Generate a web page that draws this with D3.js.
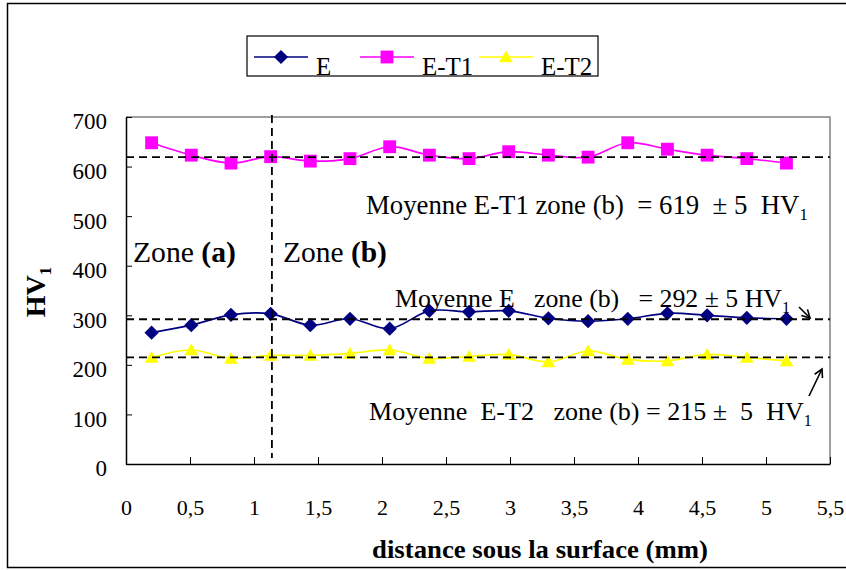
<!DOCTYPE html>
<html><head><meta charset="utf-8">
<script src="https://cdn.jsdelivr.net/npm/d3@7"></script>
<style>body{margin:0;background:#fff}svg{display:block}</style>
</head><body><svg id="c" width="846" height="570"></svg>
<script>
// ---- data ----
const distances = [0.2, 0.51, 0.82, 1.13, 1.44, 1.75, 2.06, 2.37, 2.68, 2.99, 3.3, 3.61, 3.92, 4.23, 4.54, 4.85, 5.16];
const seriesE   = [265, 280, 301, 303, 280, 293, 273, 309, 307, 309, 294, 288, 293, 304, 300, 295, 293];
const seriesET1 = [648, 623, 607, 620, 611, 616, 640, 623, 616, 630, 623, 619, 648, 635, 623, 616, 607];
const seriesET2 = [215, 230, 213, 219, 219, 223, 230, 213, 217, 221, 206, 228, 211, 208, 221, 215, 208];
const seriesNames = ["E", "E-T1", "E-T2"];
const xTicks = [0, 0.5, 1, 1.5, 2, 2.5, 3, 3.5, 4, 4.5, 5, 5.5];
const yTicks = [0, 100, 200, 300, 400, 500, 600, 700];
const meanValues = [619, 292, 215];
const zoneBoundary = 1.14;

const FONT = "Liberation Serif";
const svg = d3.select("#c");
const m = {left: 126, right: 830, top: 117, bottom: 464};
const x = d3.scaleLinear().domain([0, 5.5]).range([m.left, m.right]);
const y = d3.scaleLinear().domain([0, 700]).range([m.bottom, m.top]);

// outer frame
svg.append("rect").attr("x", 7.5).attr("y", 3.5).attr("width", 845).attr("height", 564)
  .attr("fill", "none").attr("stroke", "#000").attr("stroke-width", 1.5);

// plot frame: top/right grey
svg.append("path").attr("d", `M${m.left},${m.top}H${m.right}V${m.bottom}`)
  .attr("fill", "none").attr("stroke", "#808080").attr("stroke-width", 1.5);

// axes
const xAxis = d3.axisBottom(x).tickValues(xTicks).tickSizeInner(-7).tickSizeOuter(0)
  .tickFormat(d => String(d).replace(".", ","));
const gx = svg.append("g").attr("transform", `translate(0,${m.bottom})`).call(xAxis);
gx.attr("font-family", FONT).attr("font-size", 22);
gx.select(".domain").attr("stroke", "#000").attr("stroke-width", 1.5);
gx.selectAll(".tick line").attr("stroke", "#000");
gx.selectAll(".tick text").attr("y", 44).attr("dy", "0.32em")
  .attr("font-family", FONT).attr("font-size", 22)
  .style("font-family", FONT).style("font-size", "22px").attr("fill", "#000");

const yAxis = d3.axisLeft(y).tickValues(yTicks).tickSizeInner(-6).tickSizeOuter(0);
const gy = svg.append("g").attr("transform", `translate(${m.left},0)`).call(yAxis);
gy.attr("font-family", FONT).attr("font-size", 23);
gy.select(".domain").attr("stroke", "#000").attr("stroke-width", 1.5);
gy.selectAll(".tick line").attr("stroke", "#000");
gy.selectAll(".tick text").attr("x", -19).attr("dy", "0.52em")
  .attr("font-family", FONT).attr("font-size", 23)
  .style("font-family", FONT).style("font-size", "23px").attr("fill", "#000");

// custom symbols
const diamond = {draw(ctx, size) { const r = Math.sqrt(size) / 2 * 1.3; ctx.moveTo(0, -r); ctx.lineTo(r, 0); ctx.lineTo(0, r); ctx.lineTo(-r, 0); ctx.closePath(); }};
const square = {draw(ctx, size) { const r = Math.sqrt(size) / 2; ctx.rect(-r, -r, 2 * r, 2 * r); }};
const triangle = {draw(ctx, size) { const r = Math.sqrt(size) / 2; ctx.moveTo(0, -r * 1.05); ctx.lineTo(r * 1.1, r * 0.85); ctx.lineTo(-r * 1.1, r * 0.85); ctx.closePath(); }};

// series
const series = [
  {name: seriesNames[0], values: seriesE, color: "#000080", shape: diamond, size: 120},
  {name: seriesNames[1], values: seriesET1, color: "#FF00FF", shape: square, size: 165},
  {name: seriesNames[2], values: seriesET2, color: "#FFFF00", shape: triangle, size: 155}
];
const line = d3.line().x(d => x(d[0])).y(d => y(d[1])).curve(d3.curveCatmullRom.alpha(0.5));
series.forEach(s => {
  const pts = distances.map((d, i) => [d, s.values[i]]);
  svg.append("path").datum(pts).attr("d", line)
    .attr("fill", "none").attr("stroke", s.color).attr("stroke-width", 1.7);
  svg.append("g").selectAll("path").data(pts).join("path")
    .attr("transform", d => `translate(${x(d[0])},${y(d[1])})`)
    .attr("d", d3.symbol().type(s.shape).size(s.size))
    .attr("fill", s.color);
});

// dashed mean lines
svg.append("g").selectAll("line").data(meanValues).join("line")
  .attr("x1", m.left).attr("x2", m.right)
  .attr("y1", d => y(d)).attr("y2", d => y(d))
  .attr("stroke", "#000").attr("stroke-width", 1.8).attr("stroke-dasharray", "8,5");
svg.append("line").attr("x1", x(zoneBoundary)).attr("x2", x(zoneBoundary))
  .attr("y1", m.top - 2).attr("y2", m.bottom - 6)
  .attr("stroke", "#000").attr("stroke-width", 1.8).attr("stroke-dasharray", "8,5");

// annotations (font size fitted to the target width)
function label(xp, yp, parts, size, targetW) {
  const t = svg.append("text").attr("x", xp).attr("y", yp).attr("fill", "#000")
    .style("font-family", FONT).style("white-space", "pre");
  const subs = [];
  parts.forEach(p => {
    const ts = t.append("tspan").text(p.t);
    if (p.b) ts.style("font-weight", "bold");
    if (p.sub) { ts.attr("dy", 6); subs.push(ts); }
  });
  const apply = fs => { t.style("font-size", fs + "px"); subs.forEach(s => s.style("font-size", (fs * 0.62) + "px")); };
  apply(size);
  if (targetW) {
    const w = t.node().getComputedTextLength();
    if (w > 0) apply(size * targetW / w);
  }
  return t;
}
label(366, 214, [{t: "Moyenne E-T1 zone (b)  = " + meanValues[0] + "  \u00b1 5  HV"}, {t: "1", sub: true}], 21, 442);
label(395, 307, [{t: "Moyenne E   zone (b)   = " + meanValues[1] + " \u00b1 5 HV"}, {t: "1", sub: true}], 21, 395);
label(369, 420, [{t: "Moyenne  E-T2   zone (b) = " + meanValues[2] + " \u00b1  5  HV"}, {t: "1", sub: true}], 21, 443);
label(133, 262, [{t: "Zone "}, {t: "(a)", b: true}], 24, 103);
label(283, 262, [{t: "Zone "}, {t: "(b)", b: true}], 24, 104);

// arrows
function arrow(x1, y1, x2, y2) {
  svg.append("line").attr("x1", x1).attr("y1", y1).attr("x2", x2).attr("y2", y2)
    .attr("stroke", "#000").attr("stroke-width", 1.6);
  const a = Math.atan2(y2 - y1, x2 - x1), L = 9;
  const p1 = [x2 - L * Math.cos(a - 0.5), y2 - L * Math.sin(a - 0.5)];
  const p2 = [x2 - L * Math.cos(a + 0.5), y2 - L * Math.sin(a + 0.5)];
  svg.append("path").attr("d", `M${p1}L${x2},${y2}L${p2}`)
    .attr("fill", "none").attr("stroke", "#000").attr("stroke-width", 1.6);
}
arrow(799, 307, 810, 318);
arrow(809, 396, 822, 369);

// axis titles
svg.append("text").attr("x", 540).attr("y", 558).attr("text-anchor", "middle")
  .style("font-family", FONT).style("font-size", "25px").style("font-weight", "bold")
  .attr("textLength", 336).attr("lengthAdjust", "spacingAndGlyphs")
  .text("distance sous la surface (mm)");
const yt = svg.append("text").attr("transform", "translate(45,292) rotate(-90)")
  .attr("text-anchor", "middle").style("font-family", FONT).style("font-size", "28px").style("font-weight", "bold");
yt.append("tspan").text("HV");
yt.append("tspan").text("1").style("font-size", "17px").attr("dy", 6);

// legend
const lg = svg.append("g");
lg.append("rect").attr("x", 247).attr("y", 36).attr("width", 351).attr("height", 40)
  .attr("fill", "#fff").attr("stroke", "#000").attr("stroke-width", 1.2);
const legX = [254, 360, 479];
const legTX = [316, 422, 541];
series.forEach((s, i) => {
  lg.append("line").attr("x1", legX[i]).attr("x2", legX[i] + 54).attr("y1", 57).attr("y2", 57)
    .attr("stroke", s.color).attr("stroke-width", 1.6);
  lg.append("path").attr("transform", `translate(${legX[i] + 27},57)`)
    .attr("d", d3.symbol().type(s.shape).size(s.size)).attr("fill", s.color);
  lg.append("text").attr("x", legTX[i]).attr("y", 75)
    .style("font-family", FONT).style("font-size", "25px")
    .text(s.name);
});
</script>
</body></html>
